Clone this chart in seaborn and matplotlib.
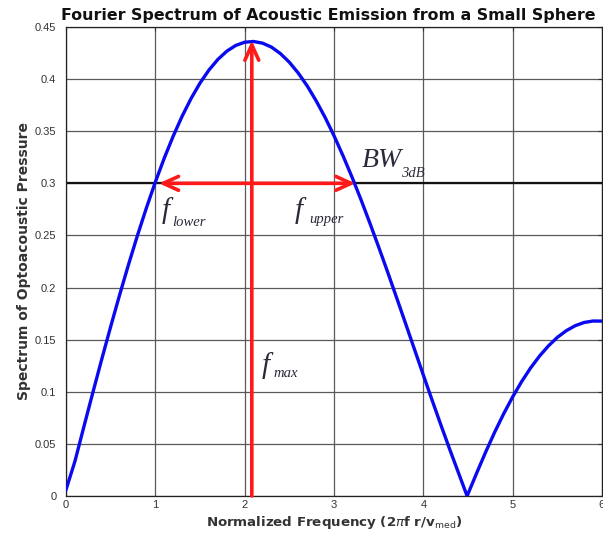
import numpy as np
import pandas as pd
import matplotlib
matplotlib.use("Agg")
import matplotlib.pyplot as plt
import seaborn as sns

# Data
freq = [0.0, 0.1, 0.2, 0.3, 0.4, 0.5, 0.6, 0.7, 0.8, 0.9,
        1.0, 1.1, 1.2, 1.3, 1.4, 1.5, 1.6, 1.7, 1.8, 1.9,
        2.0, 2.1, 2.2, 2.3, 2.4, 2.5, 2.6, 2.7, 2.8, 2.9,
        3.0, 3.1, 3.2, 3.3, 3.4, 3.5, 3.6, 3.7, 3.8, 3.9,
        4.0, 4.1, 4.2, 4.3, 4.4, 4.49, 4.6, 4.7, 4.8, 4.9,
        5.0, 5.1, 5.2, 5.3, 5.4, 5.5, 5.6, 5.7, 5.8, 5.9, 6.0]
spectrum = [0.006, 0.0333, 0.0664, 0.0991, 0.1312, 0.1625, 0.1929, 0.2221, 0.2500, 0.2764,
            0.3012, 0.3242, 0.3453, 0.3644, 0.3814, 0.3962, 0.4087, 0.4189, 0.4268, 0.4323,
            0.4354, 0.4361, 0.4345, 0.4307, 0.4245, 0.4162, 0.4058, 0.3935, 0.3792, 0.3633,
            0.3457, 0.3266, 0.3063, 0.2848, 0.2622, 0.2389, 0.2150, 0.1905, 0.1658, 0.1409,
            0.1161, 0.0915, 0.0673, 0.0437, 0.0207, 0.0000, 0.0226, 0.0426, 0.0615, 0.0790,
            0.0951, 0.1097, 0.1228, 0.1342, 0.1440, 0.1522, 0.1586, 0.1634, 0.1665, 0.1679, 0.1678]

x_ticks = [0, 1, 2, 3, 4, 5, 6]
y_ticks = [0, 0.05, 0.1, 0.15, 0.2, 0.25, 0.3, 0.35, 0.4, 0.45]
y_tick_labels = ['0', '0.05', '0.1', '0.15', '0.2', '0.25', '0.3', '0.35', '0.4', '0.45']

f_max = 2.08
peak = 0.437
level_3db = 0.3
f_lower = 1.04
f_upper = 3.24

df = pd.DataFrame({"freq": freq, "spectrum": spectrum})

sns.set_style("white")
plt.rcParams['font.family'] = ['Liberation Sans', 'DejaVu Sans']

fig = plt.figure(figsize=(6.03, 5.46), dpi=100)
ax = fig.add_axes([66/603, 50/546, 536/603, 469/546])

ax.set_xlim(0, 6)
ax.set_ylim(0, 0.45)
ax.set_xticks(x_ticks)
ax.set_yticks(y_ticks)
ax.set_yticklabels(y_tick_labels)
ax.grid(True, color='#5a5a5a', linewidth=0.9)
ax.set_axisbelow(True)

ax.axhline(level_3db, color='#111111', linewidth=1.6, zorder=1.5)

sns.lineplot(data=df, x="freq", y="spectrum", ax=ax, color='#0a0af0',
             linewidth=2.4, zorder=3)

red = '#ff1a1a'
ax.annotate('', xy=(f_max, peak), xytext=(f_max, 0),
            arrowprops=dict(arrowstyle='->,head_length=0.55,head_width=0.25',
                            mutation_scale=20, color=red, lw=2.6,
                            shrinkA=0, shrinkB=0), zorder=4)
ax.annotate('', xy=(f_lower, level_3db), xytext=(f_upper, level_3db),
            arrowprops=dict(arrowstyle='<->,head_length=0.55,head_width=0.25',
                            mutation_scale=20, color=red, lw=2.6,
                            shrinkA=0, shrinkB=0), zorder=4)

serif = dict(family=['Liberation Serif', 'DejaVu Serif'], style='italic',
             color='#2a2a3a', va='baseline')
ax.text(3.31, 0.316, 'BW', fontsize=20, **serif)
ax.text(3.75, 0.306, '3dB', fontsize=10.5, **serif)
ax.text(1.07, 0.267, 'f', fontsize=21, **serif)
ax.text(1.19, 0.259, 'lower', fontsize=10.5, **serif)
ax.text(2.56, 0.267, 'f', fontsize=21, **serif)
ax.text(2.72, 0.262, 'upper', fontsize=10.5, **serif)
ax.text(2.19, 0.118, 'f', fontsize=21, **serif)
ax.text(2.32, 0.114, 'max', fontsize=10.5, **serif)

for s in ax.spines.values():
    s.set_color('#222222')
    s.set_linewidth(0.9)

ax.tick_params(axis='both', which='both', direction='in', length=3,
               labelsize=8, labelcolor='#333333', color='#333333',
               top=True, right=True, pad=3)
ax.tick_params(axis='y', pad=7)

lab_font = ['DejaVu Sans']
ax.set_xlabel(r'Normalized Frequency (2$\pi$f r/v$_{\mathrm{med}}$)', fontsize=9.6,
              fontweight='bold', color='#333333', labelpad=3, family=lab_font)
ax.set_ylabel('Spectrum of Optoacoustic Pressure', fontsize=10,
              fontweight='bold', color='#333333', labelpad=3, family=lab_font)
ax.set_title('Fourier Spectrum of Acoustic Emission from a Small Sphere',
             fontsize=11.4, fontweight='bold', color='#111111', pad=5,
             family=lab_font, x=0.49)

fig.savefig('out.png', dpi=100)
